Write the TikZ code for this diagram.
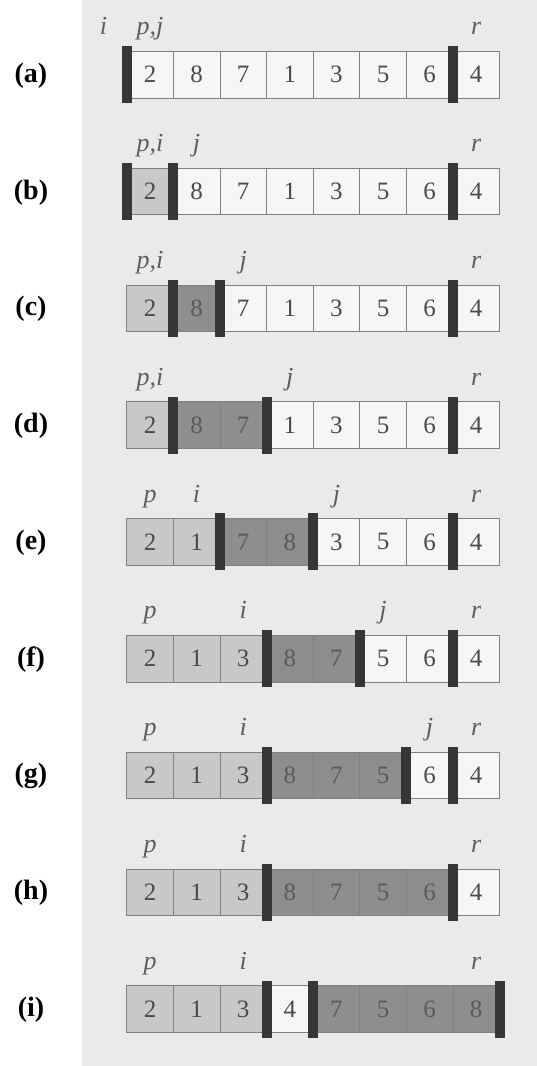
\documentclass[tikz,border=0pt]{standalone}
\usepackage{fontspec}
\setmainfont{Liberation Serif}
\definecolor{bg}{HTML}{EAEAEA}
\definecolor{fillW}{HTML}{F6F6F6}
\definecolor{fillL}{HTML}{C8C8C8}
\definecolor{fillD}{HTML}{8E8E8E}
\definecolor{textW}{HTML}{4A4A4A}
\definecolor{textL}{HTML}{4A4A4A}
\definecolor{textD}{HTML}{5A5A5A}
\definecolor{barcol}{HTML}{363636}
\definecolor{idxcol}{HTML}{5E5E5E}
\tikzset{
  cellbox/.style={draw=black!50, line width=0.8pt, minimum width=46.6pt,
    minimum height=46.6pt, inner sep=0pt, anchor=center,
    font=\fontsize{25}{25}\selectfont},
  barbox/.style={fill=barcol, draw=none, minimum width=10pt,
    minimum height=57pt, inner sep=0pt, anchor=center},
  idx/.style={font=\fontsize{26}{26}\selectfont\itshape, text=idxcol,
    anchor=base, inner sep=0pt},
  rowlab/.style={font=\fontsize{28}{28}\selectfont\bfseries, anchor=center,
    inner sep=0pt}
}
% #1 row index, #2 letter, #3 cells value/shade, #4 bar boundaries, #5 labels pos/text
\newcommand\qsrow[5]{%
  \node[rowlab] (row#1) at (31, {75.5+116.8*#1}) {(#2)};
  \foreach \v/\s [count=\k] in {#3} {
    \node[cellbox, fill=fill\s, text=text\s] (c#1-\k)
      at ({126.7+46.6*(\k-0.5)}, {74.7+116.8*#1}) {\v};
  }
  \foreach \m [count=\k] in {#4} {
    \node[barbox] (b#1-\k) at ({126.7+46.6*\m}, {74.7+116.8*#1}) {};
  }
  \foreach \p/\t [count=\k] in {#5} {
    \node[idx] (l#1-\k) at ({126.7+46.6*(\p-0.5)}, {74.7+116.8*#1-23.3-16.5}) {\t};
  }
}
\begin{document}
\begin{tikzpicture}[x=1pt,y=-1pt]
\useasboundingbox (0,0) rectangle (537,1066);
\fill[bg] (82,0) rectangle (537,1066);
\qsrow{0}{a}{2/W,8/W,7/W,1/W,3/W,5/W,6/W,4/W}{0,7}{0/i,1/{p,j},8/r}
\qsrow{1}{b}{2/L,8/W,7/W,1/W,3/W,5/W,6/W,4/W}{0,1,7}{1/{p,i},2/j,8/r}
\qsrow{2}{c}{2/L,8/D,7/W,1/W,3/W,5/W,6/W,4/W}{1,2,7}{1/{p,i},3/j,8/r}
\qsrow{3}{d}{2/L,8/D,7/D,1/W,3/W,5/W,6/W,4/W}{1,3,7}{1/{p,i},4/j,8/r}
\qsrow{4}{e}{2/L,1/L,7/D,8/D,3/W,5/W,6/W,4/W}{2,4,7}{1/p,2/i,5/j,8/r}
\qsrow{5}{f}{2/L,1/L,3/L,8/D,7/D,5/W,6/W,4/W}{3,5,7}{1/p,3/i,6/j,8/r}
\qsrow{6}{g}{2/L,1/L,3/L,8/D,7/D,5/D,6/W,4/W}{3,6,7}{1/p,3/i,7/j,8/r}
\qsrow{7}{h}{2/L,1/L,3/L,8/D,7/D,5/D,6/D,4/W}{3,7}{1/p,3/i,8/r}
\qsrow{8}{i}{2/L,1/L,3/L,4/W,7/D,5/D,6/D,8/D}{3,4,8}{1/p,3/i,8/r}
\end{tikzpicture}
\end{document}
